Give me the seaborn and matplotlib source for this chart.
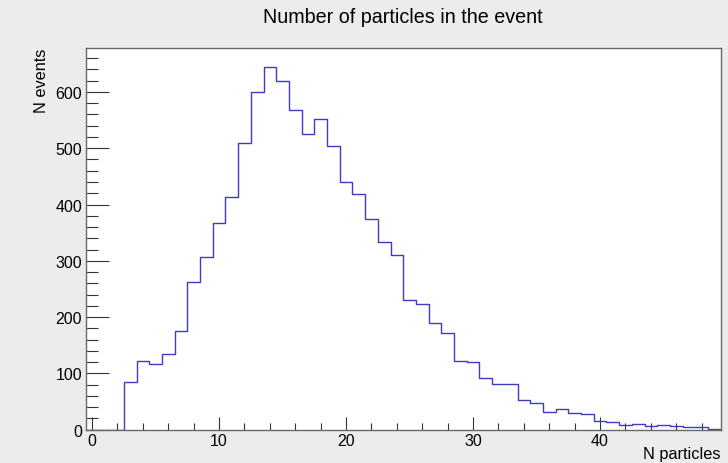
import numpy as np
import pandas as pd
import matplotlib
matplotlib.use("Agg")
import matplotlib.pyplot as plt
from matplotlib.ticker import MultipleLocator
import seaborn as sns

# Multiplicity histogram: integer bins 0..49
n_particles = list(range(50))
n_events = [0, 0, 0, 85, 122, 117, 135, 176, 263, 307,
            368, 413, 509, 599, 644, 619, 568, 526, 552, 504,
            440, 419, 375, 334, 311, 230, 223, 189, 172, 122,
            120, 91, 82, 82, 53, 47, 32, 36, 29, 27,
            16, 14, 9, 10, 7, 8, 6, 4, 5, 2]

title = "Number of particles in the event"
x_title = "N particles"
y_title = "N events"

df = pd.DataFrame({"n": n_particles, "count": n_events})

sns.set_theme(style="ticks")
plt.rcParams["font.family"] = ["Liberation Sans", "DejaVu Sans"]
plt.rcParams["text.color"] = "black"
plt.rcParams["axes.labelcolor"] = "black"
plt.rcParams["xtick.labelcolor"] = "black"
plt.rcParams["ytick.labelcolor"] = "black"

W, H = 728, 464
fig = plt.figure(figsize=(W / 100, H / 100), dpi=100)
fig.patch.set_facecolor("#ececec")

left, right, top, bottom = 85.7, 720.7, 49.0, 430.7
ax = fig.add_axes([left / W, 1 - bottom / H, (right - left) / W, (bottom - top) / H])
ax.set_facecolor("white")

# unit-width bins centred on each integer multiplicity
sns.histplot(data=df, x="n", weights="count", discrete=True, element="step",
             fill=False, color="#3c3cc4", linewidth=1.0, ax=ax)

ax.set_xlim(-0.5, 49.5)
ax.set_ylim(0, 678)

ax.xaxis.set_major_locator(MultipleLocator(10))
ax.xaxis.set_minor_locator(MultipleLocator(2))
ax.yaxis.set_major_locator(MultipleLocator(100))
ax.yaxis.set_minor_locator(MultipleLocator(20))

ax.tick_params(axis="x", which="major", direction="in", length=9.4, width=0.8,
               color="#333333", labelsize=11.5, pad=2.2, labelcolor="black")
ax.tick_params(axis="x", which="minor", direction="in", length=5.0, width=0.8,
               color="#333333")
ax.tick_params(axis="y", which="major", direction="in", length=16.6, width=0.8,
               color="#333333", labelsize=11.5, pad=2.5, labelcolor="black")
ax.tick_params(axis="y", which="minor", direction="in", length=8.4, width=0.8,
               color="#333333")

for s in ax.spines.values():
    s.set_color("#6a6a6a")
    s.set_linewidth(1.0)

ax.set_xlabel(x_title, fontsize=11.7, loc="right", color="black")
ax.xaxis.set_label_coords(1.0, -0.042)
ax.set_ylabel(y_title, fontsize=11.7, loc="top", color="black")
ax.yaxis.set_label_coords(-0.058, 1.0)

ax.set_title(title, fontsize=14.2, y=(bottom - 17) / (bottom - top), va="center",
             pad=0, color="black")

fig.savefig("out.png", dpi=100, facecolor=fig.get_facecolor())
